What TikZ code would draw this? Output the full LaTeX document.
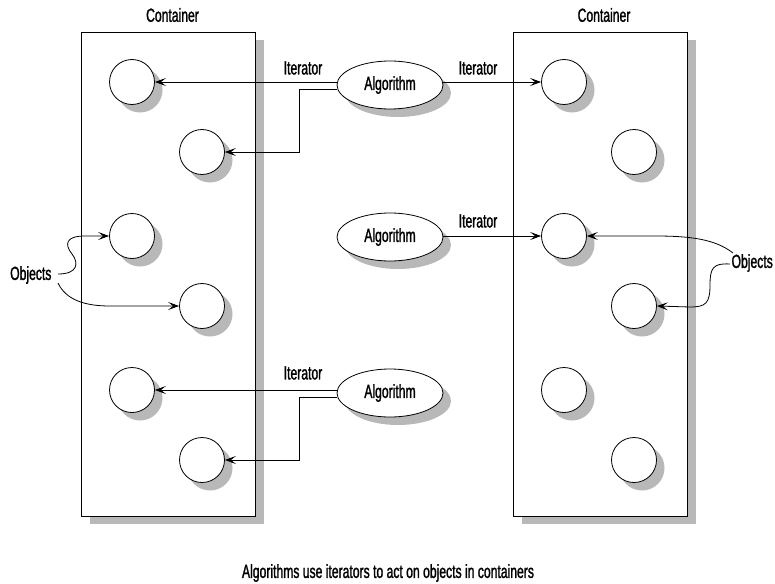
\documentclass[tikz,border=0pt]{standalone}
\usepackage{fontspec}
\setmainfont[FakeStretch=0.64,FakeBold=1.3]{Liberation Sans}
\usetikzlibrary{shadows,arrows.meta,calc,shapes.geometric}
\definecolor{shgray}{gray}{0.72}
\begin{document}
\begin{tikzpicture}[x=1pt,y=-1pt,
  every node/.style={font=\fontsize{19}{21}\selectfont},
  shad/.style={drop shadow={shadow xshift=8pt,shadow yshift=-8pt,fill=shgray,opacity=1}},
  box/.style={draw,fill=white,line width=0.8pt,minimum width=174pt,minimum height=484pt,inner sep=0,shad},
  obj/.style={circle,draw,fill=white,line width=0.8pt,minimum size=45pt,inner sep=0,shad},
  algo/.style={ellipse,draw,fill=white,line width=0.8pt,minimum width=106pt,minimum height=48pt,inner sep=0,shad},
  arr/.style={line width=0.8pt,-{Stealth[length=11pt,width=8pt,inset=5pt]}}]
\useasboundingbox (0,0) rectangle (775,583);
% containers
\node[box] (L) at (168.5,274) {};
\node[box] (R) at (600.5,274) {};
\node (tL) at (172.5,15) {Container};
\node (tR) at (604,15) {Container};
% objects
\node[obj] (a1) at (132,82) {};
\node[obj] (a2) at (202,152) {};
\node[obj] (a3) at (132,236) {};
\node[obj] (a4) at (202,306) {};
\node[obj] (a5) at (132,390) {};
\node[obj] (a6) at (202,460) {};
\node[obj] (b1) at (564,82) {};
\node[obj] (b2) at (634,152) {};
\node[obj] (b3) at (564,236) {};
\node[obj] (b4) at (634,306) {};
\node[obj] (b5) at (564,390) {};
\node[obj] (b6) at (634,460) {};
% algorithms
\node[algo] (g1) at (390,85) {Algorithm};
\node[algo] (g2) at (390,237) {Algorithm};
\node[algo] (g3) at (390,393) {Algorithm};
% iterator labels
\node (i1) at (303,68) {Iterator};
\node (i2) at (478,68) {Iterator};
\node (i3) at (478,221) {Iterator};
\node (i4) at (303,373) {Iterator};
% iterator arrows
\coordinate (k1) at (299,89);
\coordinate (k3) at (299,397);
\draw[arr] (g1.west |- a1.east) -- (a1.east);
\draw[arr] ([yshift=-4pt]g1.west) -- (k1) |- (a2.east);
\draw[arr] (g1.east |- b1.west) -- (b1.west);
\draw[arr] (g2.east |- b3.west) -- (b3.west);
\draw[arr] (g3.west |- a5.east) -- (a5.east);
\draw[arr] ([yshift=-4pt]g3.west) -- (k3) |- (a6.east);
% objects labels
\node[anchor=west,inner sep=0] (oL) at (10,275) {Objects};
\node[anchor=east,inner sep=0] (oR) at (773,263) {Objects};
\coordinate (s1) at (58,274);
\coordinate (s2) at (58,283);
\coordinate (s3) at (733,253);
\coordinate (s4) at (730,264);
\draw[arr] (s1) .. controls (78,274) and (79,263) .. (72,254) .. controls (64,244) and (66,236) .. (85,236) -- (a3.west);
\draw[arr] (s2) .. controls (66,300) and (85,306) .. (110,306) -- (a4.west);
\draw[arr] (s3) .. controls (715,239) and (690,236) .. (655,236) -- (b3.east);
\draw[arr] (s4) .. controls (713,263) and (710,268) .. (710,285) .. controls (710,303) and (706,307) .. (690,307) -- (b4.east);
% caption
\node (cap) at (388,573) {Algorithms use iterators to act on objects in containers};
\end{tikzpicture}
\end{document}
